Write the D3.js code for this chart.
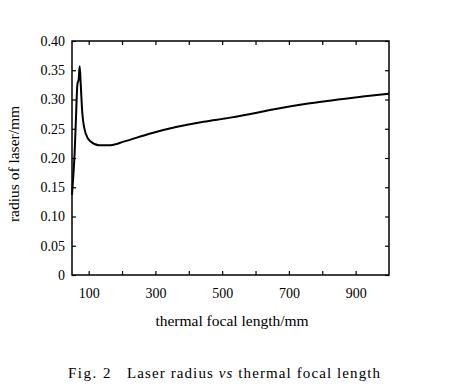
<!DOCTYPE html>
<html>
<head>
<meta charset="utf-8">
<script src="https://cdn.jsdelivr.net/npm/d3@7"></script>
<style>
  body { margin: 0; background: #fff; }
  text { font-family: "Liberation Serif", "DejaVu Serif", serif; fill: #000; }
</style>
</head>
<body>
<div id="chart"></div>
<script>
// thermal focal length (mm) and laser radius (mm)
var focalLength = [50, 54, 58, 62, 66, 70, 73, 76, 81, 91, 106, 131, 166, 205, 285, 365, 444, 524, 604, 643, 763, 921, 1000];
var laserRadius = [0.137, 0.17, 0.21, 0.27, 0.325, 0.335, 0.357, 0.328, 0.276, 0.242, 0.228, 0.2217, 0.222, 0.228, 0.242, 0.2535, 0.262, 0.269, 0.2775, 0.282, 0.2935, 0.305, 0.31];

var xTicks = [100, 200, 300, 400, 500, 600, 700, 800, 900];
var xLabels = [100, 300, 500, 700, 900];
var yTicks = [0, 0.05, 0.10, 0.15, 0.20, 0.25, 0.30, 0.35, 0.40];

var width = 452, height = 389;
// plot box edges (named so they don't clash with window.top)
var plotLeft = 72, plotRight = 389, plotTop = 41, plotBottom = 275;

var svg = d3.select("#chart").append("svg").attr("width", width).attr("height", height);

var x = d3.scaleLinear().domain([50, 1000]).range([plotLeft, plotRight]);
var y = d3.scaleLinear().domain([0, 0.4]).range([plotBottom, plotTop]);

//bottom axis with labels, inward ticks
var bottomAxis = d3.axisBottom(x).tickValues(xTicks).tickSizeInner(-4).tickSizeOuter(0)
  .tickFormat(function (d) { return xLabels.indexOf(d) >= 0 ? d : ""; });
var gb = svg.append("g").attr("transform", "translate(0," + plotBottom + ")").call(bottomAxis);
gb.selectAll("text").attr("y", 10).attr("dy", "0.9em").style("font-size", "14px");

svg.append("g").attr("transform", "translate(0," + plotTop + ")")
  .call(d3.axisTop(x).tickValues(xTicks).tickSizeInner(-4).tickSizeOuter(0).tickFormat(""));

var leftAxis = d3.axisLeft(y).tickValues(yTicks).tickSizeInner(-4).tickSizeOuter(0)
  .tickFormat(function (d) { return d === 0 ? "0" : d3.format(".2f")(d); });
var gl = svg.append("g").attr("transform", "translate(" + plotLeft + ",0)").call(leftAxis);
gl.selectAll("text").attr("x", -7).style("font-size", "14px");

svg.append("g").attr("transform", "translate(" + plotRight + ",0)")
  .call(d3.axisRight(y).tickValues(yTicks).tickSizeInner(-4).tickSizeOuter(0).tickFormat(""));

svg.selectAll(".domain").remove();
svg.selectAll(".tick line").attr("stroke", "#000").attr("stroke-width", 1.2);

//frame
svg.append("rect").attr("x", plotLeft).attr("y", plotTop)
  .attr("width", plotRight - plotLeft).attr("height", plotBottom - plotTop)
  .attr("fill", "none").attr("stroke", "#000").attr("stroke-width", 1.5);

//curve
var pts = focalLength.map(function (d, i) { return [d, laserRadius[i]]; });
var line = d3.line().x(function (d) { return x(d[0]); }).y(function (d) { return y(d[1]); })
  .curve(d3.curveMonotoneX);
svg.append("path").datum(pts).attr("d", line)
  .attr("fill", "none").attr("stroke", "#000").attr("stroke-width", 2);

//axis titles
svg.append("text").attr("x", 232).attr("y", 326).attr("text-anchor", "middle")
  .style("font-size", "15.5px").text("thermal focal length/mm");
svg.append("text").attr("transform", "translate(19,164) rotate(-90)").attr("text-anchor", "middle")
  .style("font-size", "15.5px").text("radius of laser/mm");

//caption
svg.append("text").attr("x", 68).attr("y", 378).style("font-size", "15px")
  .style("letter-spacing", "1.5px").text("Fig. 2");
var cap = svg.append("text").attr("x", 127).attr("y", 378).style("font-size", "15px")
  .style("letter-spacing", "1.1px");
cap.append("tspan").text("Laser radius ");
cap.append("tspan").style("font-style", "italic").text("vs");
cap.append("tspan").text(" thermal focal length");
</script>
</body>
</html>
